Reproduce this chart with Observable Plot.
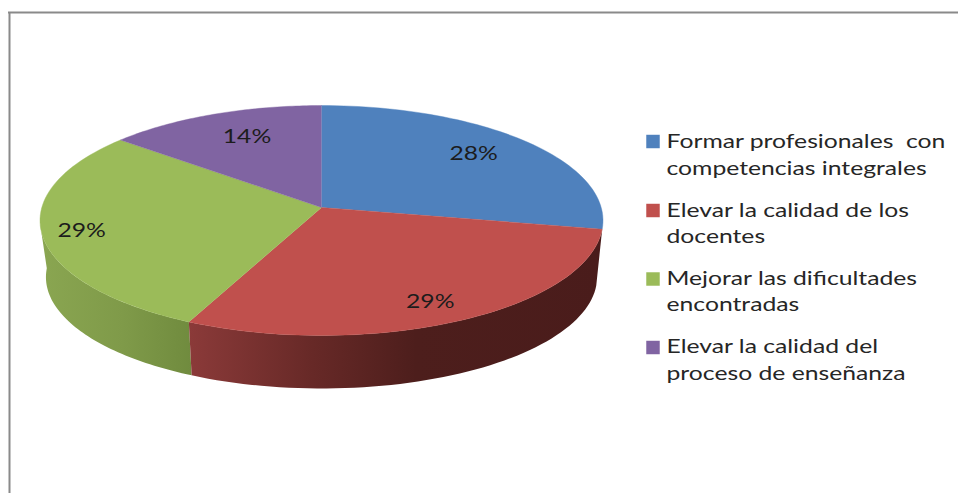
<!DOCTYPE html>
<html lang="es">
<head>
<meta charset="utf-8">
<title>Gráfico circular</title>
<script src="https://cdn.jsdelivr.net/npm/d3@7"></script>
<script src="https://cdn.jsdelivr.net/npm/@observablehq/plot@0.6"></script>
<style>
  html, body { margin: 0; padding: 0; background: #fff; }
  svg { display: block; }
</style>
</head>
<body>
<div id="chart"></div>
<script>
// Chart values
const categories = [
  "Formar profesionales con competencias integrales",
  "Elevar la calidad de los docentes",
  "Mejorar las dificultades encontradas",
  "Elevar la calidad del proceso de enseñanza"
];
const shares = [28, 29, 29, 14];
const legendLines = [
  ["Formar profesionales  con", "competencias integrales"],
  ["Elevar la calidad de los", "docentes"],
  ["Mejorar las dificultades", "encontradas"],
  ["Elevar la calidad del", "proceso de enseñanza"]
];
const colors = ["#4f81bd", "#c0504d", "#9bbb59", "#8064a2"];

// Tilted disc: the top face and the lower rim are projected circles with perspective
const W = 958, H = 493;
const top_ = {cx: 321, cy: 207, a: 279.7, b: 113.5};
const low = {cx: 321, cy: 264, a: 273.8, b: 110};
const k = 0.113;
const project = (p, deg, r = 1) => {
  const t = deg * Math.PI / 180;
  const u = r * Math.sin(t), v = r * Math.cos(t), w = 1 + k * v;
  return {x: p.cx + p.a * u / w, y: p.cy - p.b * v / w};
};
const total = d3.sum(shares);
const edges = d3.cumsum([0, ...shares]).map((s) => s / total * 360);
const arc = (p, from, to) => d3.range(0, 61).map((i) => project(p, from + (to - from) * i / 60));

// Top face wedges
const wedges = shares.flatMap((s, i) =>
  [{x: top_.cx, y: top_.cy}, ...arc(top_, edges[i], edges[i + 1])].map((q) => ({...q, slice: i}))
);

// Visible side walls: the red wedge and the front of the green wedge
const wall = (from, toTop, toLow) => [...arc(top_, from, toTop), ...arc(low, toLow, from)];
const redWall = wall(edges[1], edges[2], edges[2]);
const greenWall = wall(edges[2], 262, 268);

// Percentage labels, placed along each wedge's middle direction
const labelReach = [[0.757, 0.80], [0.77, 0.836], [0.857, 0.906], [0.69, 0.76]];
const labels = shares.map((s, i) => {
  const mid = (edges[i] + edges[i + 1]) / 2;
  const t = mid * Math.PI / 180, w = 1 + k * Math.cos(t);
  return {
    text: s + "%",
    x: top_.cx + labelReach[i][0] * top_.a * Math.sin(t) / w,
    y: top_.cy - labelReach[i][1] * top_.b * Math.cos(t) / w
  };
});

// Legend rows
const legendX = 652.5, legendTextX = 666;
const swatchY = [141, 210, 278.5, 347];
const lineY = [[141.5, 168], [210, 236.5], [278, 304.5], [346.5, 373]];
const legendSwatches = categories.map((c, i) => ({category: c, y: swatchY[i], color: colors[i]}));
const legendText = legendLines.flatMap((lines, i) => lines.map((text, j) => ({text, y: lineY[i][j]})));

// Horizontal shading of the side walls
const gradients = () => {
  const defs = d3.create("svg:defs");
  const add = (id, stops) => {
    const g = defs.append("linearGradient").attr("id", id);
    stops.forEach(([o, c]) => g.append("stop").attr("offset", o).attr("stop-color", c));
  };
  add("wall-red", [[0, "#8b3a39"], [0.3, "#672927"], [0.55, "#4d1e1c"], [1, "#4a1c1b"]]);
  add("wall-green", [[0, "#8aa651"], [0.55, "#7f9a49"], [1, "#708b3e"]]);
  return defs.node();
};

const font = "Lato, 'Open Sans', sans-serif";
const chart = Plot.plot({
  width: W,
  height: H,
  margin: 0,
  x: {domain: [0, W], range: [0, W], axis: null},
  y: {domain: [0, H], range: [0, H], axis: null},
  marks: [
    gradients,
    // Outer frame, open at the right and bottom
    Plot.ruleY([12], {x1: 8, x2: W, stroke: "#8a8a8a", strokeWidth: 2}),
    Plot.ruleX([9], {y1: 12, y2: H, stroke: "#8a8a8a", strokeWidth: 2}),
    // Side walls, then the top face
    Plot.line(greenWall, {x: "x", y: "y", fill: "url(#wall-green)", stroke: "none"}),
    Plot.line(redWall, {x: "x", y: "y", fill: "url(#wall-red)", stroke: "none"}),
    Plot.line(wedges, {
      x: "x", y: "y", z: "slice",
      fill: (d) => colors[d.slice], stroke: (d) => colors[d.slice], strokeWidth: 0.4
    }),
    // Percentages
    Plot.text(labels, {
      x: "x", y: "y", text: "text",
      fontSize: 20, fontFamily: font, fill: "#1c1c1c"
    }),
    // Legend
    Plot.dot(legendSwatches, {
      x: () => legendX, y: "y", fill: "color", symbol: "square", r: 7.6
    }),
    Plot.text(legendText, {
      x: () => legendTextX, y: "y", text: "text", textAnchor: "start",
      fontSize: 20, fontFamily: font, fill: "#262626"
    })
  ]
});
document.getElementById("chart").append(chart);

// The chart's lettering is set wide: stretch every label horizontally
const widen = () => d3.select(chart).selectAll("text").each(function () {
  this.removeAttribute("textLength");
  const length = this.getComputedTextLength();
  this.setAttribute("textLength", length * 1.235);
  this.setAttribute("lengthAdjust", "spacingAndGlyphs");
});
widen();
if (document.fonts && document.fonts.ready) document.fonts.ready.then(widen);
</script>
</body>
</html>
